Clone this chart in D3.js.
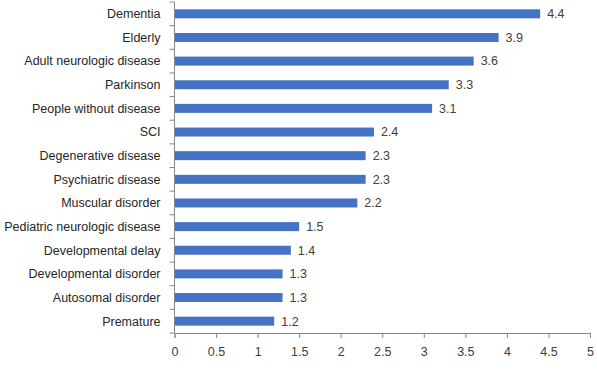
<!DOCTYPE html>
<html>
<head>
<meta charset="utf-8">
<script src="https://cdn.jsdelivr.net/npm/d3@7"></script>
<style>
  body { margin: 0; background: #fff; }
  text { font-family: "Liberation Sans", Arial, sans-serif; }
</style>
</head>
<body>
<script>
const categories = [
  "Dementia", "Elderly", "Adult neurologic disease", "Parkinson",
  "People without disease", "SCI", "Degenerative disease", "Psychiatric disease",
  "Muscular disorder", "Pediatric neurologic disease", "Developmental delay",
  "Developmental disorder", "Autosomal disorder", "Premature"
];
const values = [4.4, 3.9, 3.6, 3.3, 3.1, 2.4, 2.3, 2.3, 2.2, 1.5, 1.4, 1.3, 1.3, 1.2];
const xTicks = [0, 0.5, 1, 1.5, 2, 2.5, 3, 3.5, 4, 4.5, 5];

const width = 597, height = 376;
const margin = {top: 2, right: 7, bottom: 43, left: 174.5};
const fontSize = 12.5;

const data = categories.map((name, i) => ({name, value: values[i]}));

const svg = d3.select("body").append("svg")
    .attr("width", width)
    .attr("height", height);

const x = d3.scaleLinear()
    .domain([0, 5])
    .range([margin.left, width - margin.right]);

const y = d3.scaleBand()
    .domain(categories)
    .range([margin.top, height - margin.bottom])
    .paddingInner(0.62)
    .paddingOuter(0.31);

svg.append("g")
    .attr("fill", "#4472c4")
  .selectAll("rect")
  .data(data)
  .join("rect")
    .attr("x", x(0))
    .attr("y", d => y(d.name))
    .attr("width", d => x(d.value) - x(0))
    .attr("height", y.bandwidth());

// value labels
svg.append("g")
    .attr("font-size", fontSize)
    .attr("fill", "#404040")
  .selectAll("text")
  .data(data)
  .join("text")
    .attr("x", d => x(d.value) + 7)
    .attr("y", d => y(d.name) + y.bandwidth() / 2)
    .attr("dy", "0.35em")
    .text(d => d.value.toFixed(1));

// x axis
const gx = svg.append("g")
    .attr("transform", `translate(0,${height - margin.bottom})`)
    .call(d3.axisBottom(x).tickValues(xTicks).tickSize(5).tickPadding(9)
        .tickFormat(d3.format("")));
gx.select(".domain").attr("stroke", "#868686");
gx.selectAll(".tick line").attr("stroke", "#868686");
gx.selectAll(".tick text")
    .attr("font-size", fontSize)
    .attr("font-family", "Liberation Sans, Arial, sans-serif")
    .attr("fill", "#404040");

// y axis: line plus boundary ticks
const boundaries = d3.range(categories.length + 1)
    .map(i => margin.top + i * (height - margin.bottom - margin.top) / categories.length);
const gy = svg.append("g");
gy.append("line")
    .attr("x1", margin.left).attr("x2", margin.left)
    .attr("y1", margin.top).attr("y2", height - margin.bottom)
    .attr("stroke", "#868686");
gy.selectAll("line.tk")
  .data(boundaries)
  .join("line")
    .attr("class", "tk")
    .attr("x1", margin.left - 5).attr("x2", margin.left)
    .attr("y1", d => d).attr("y2", d => d)
    .attr("stroke", "#868686");
gy.selectAll("text")
  .data(categories)
  .join("text")
    .attr("x", margin.left - 14)
    .attr("y", d => y(d) + y.bandwidth() / 2)
    .attr("dy", "0.35em")
    .attr("text-anchor", "end")
    .attr("font-size", fontSize)
    .attr("fill", "#262626")
    .text(d => d);
</script>
</body>
</html>
